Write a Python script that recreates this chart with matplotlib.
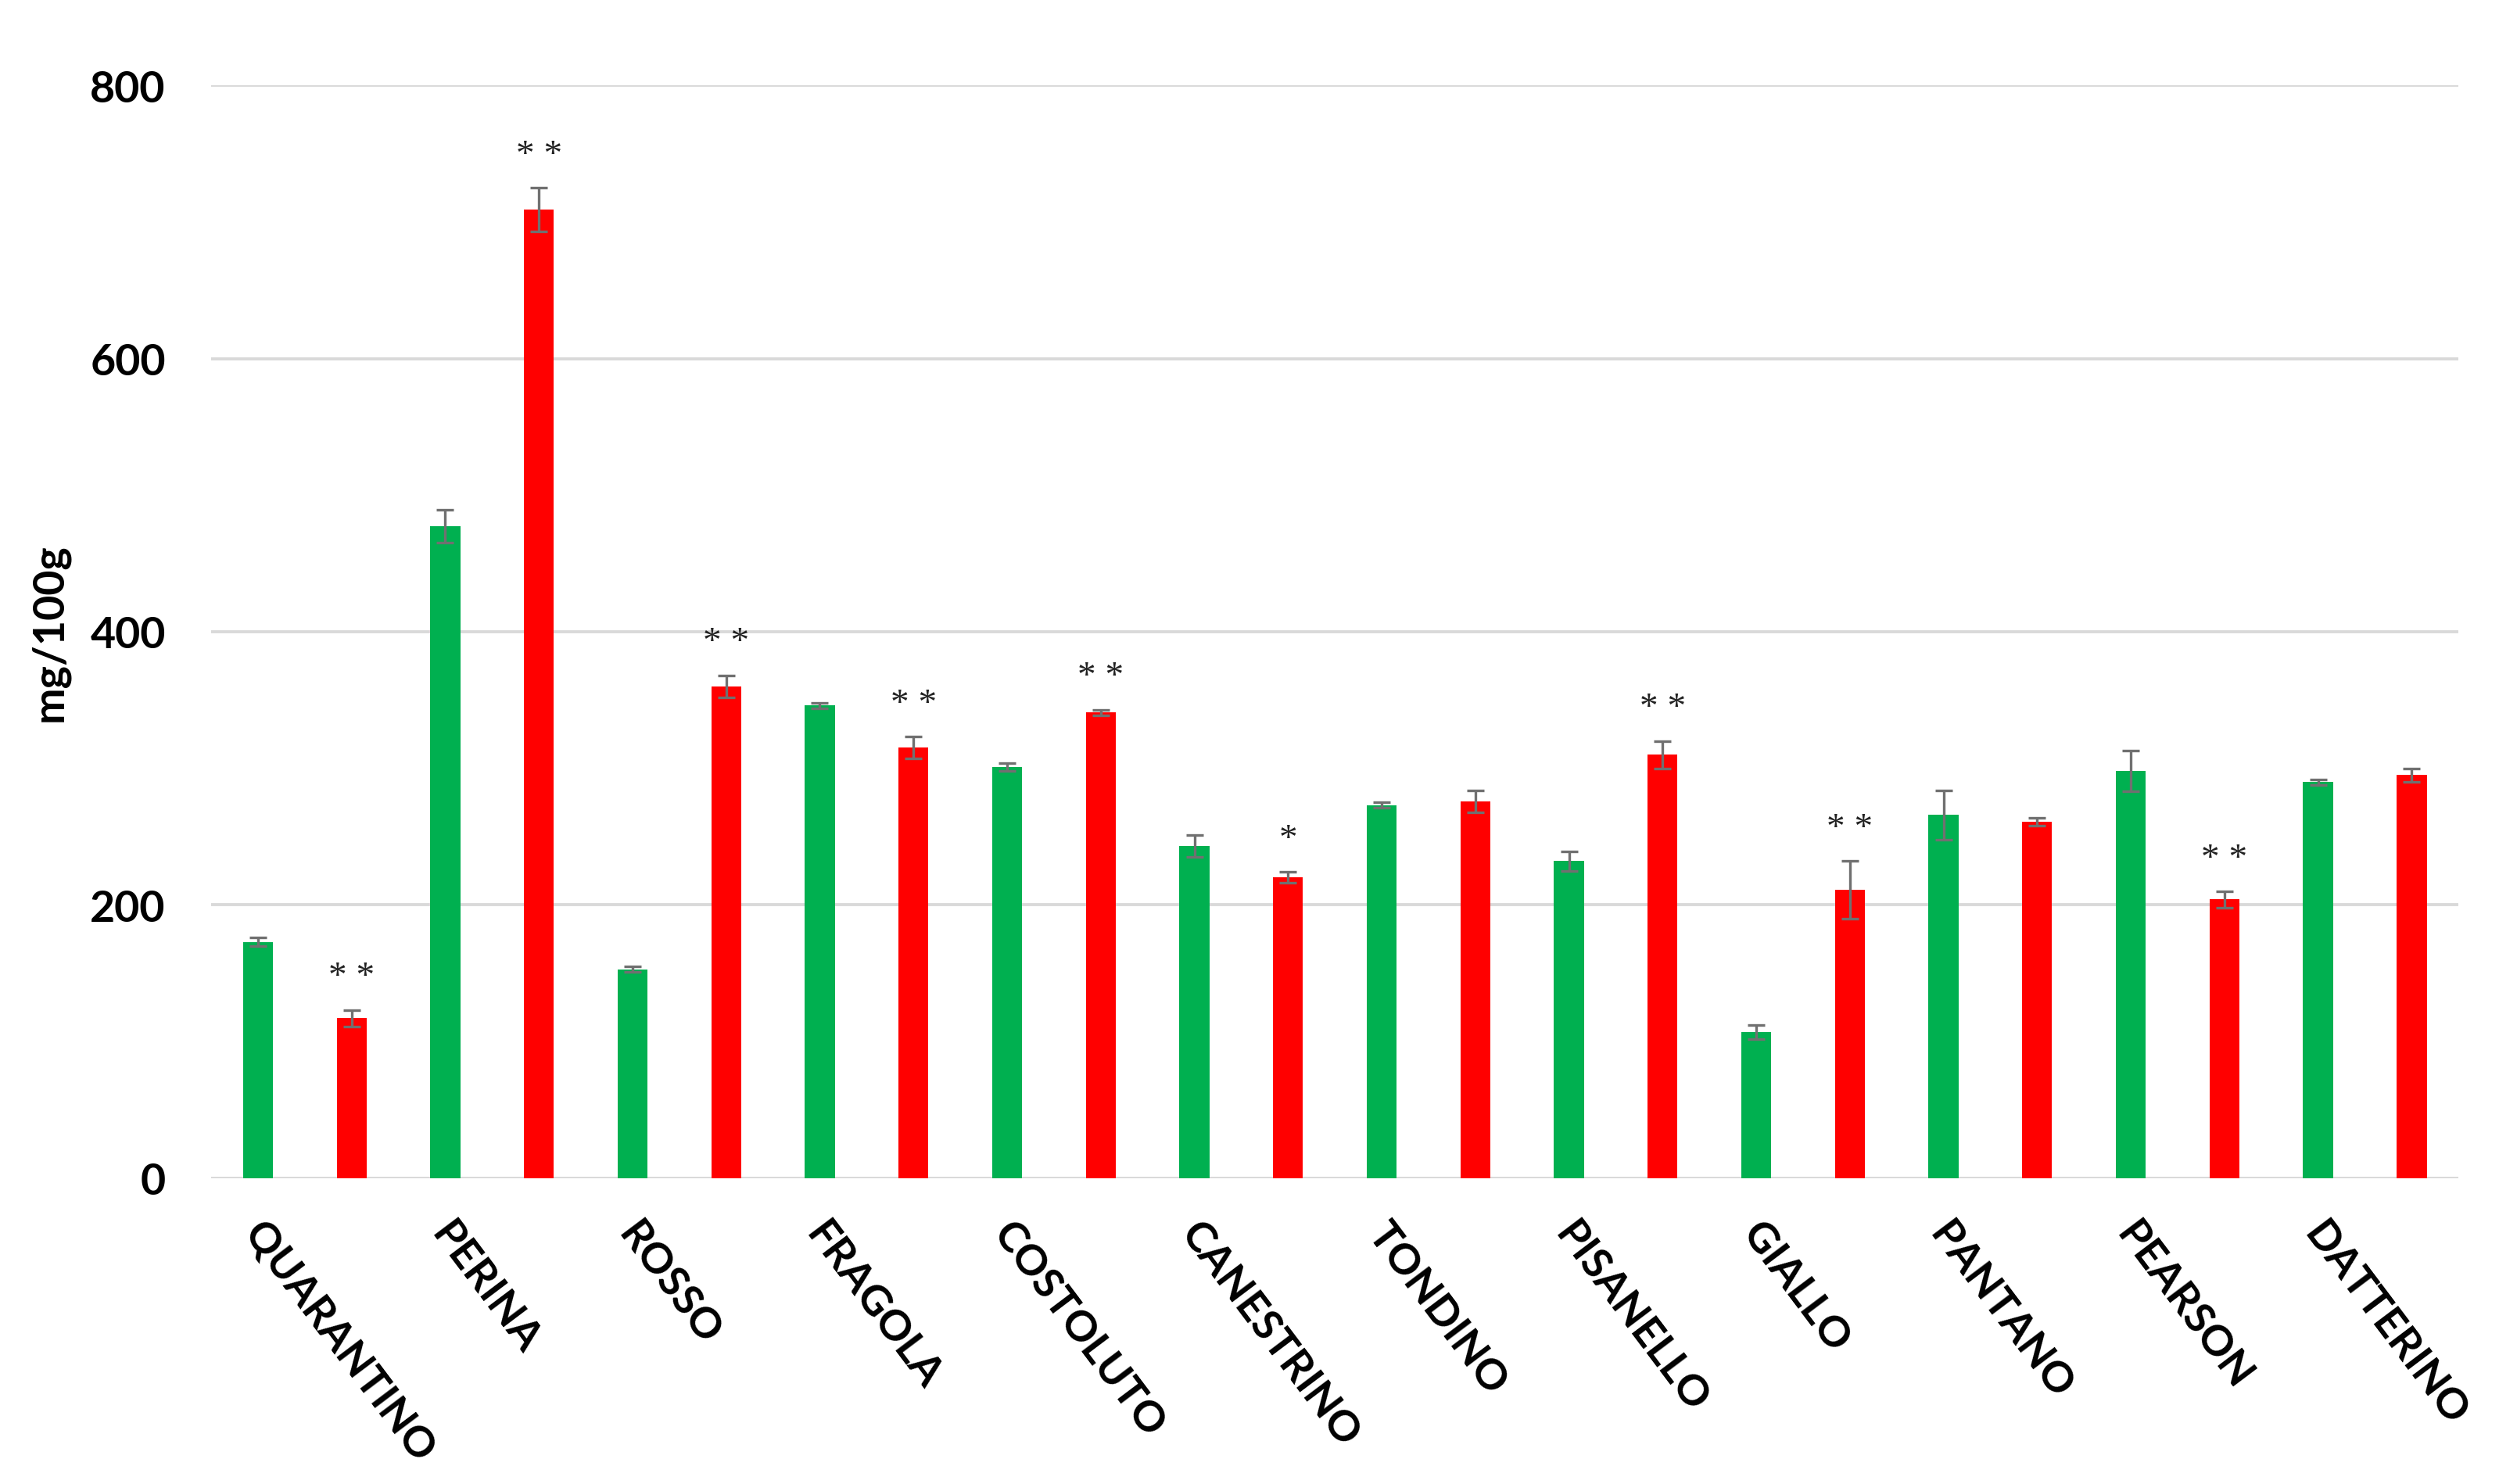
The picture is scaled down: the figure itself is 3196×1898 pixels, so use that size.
import matplotlib
matplotlib.use("Agg")
import matplotlib.pyplot as plt
import numpy as np

categories = ["QUARANTINO", "PERINA", "ROSSO", "FRAGOLA", "COSTOLUTO", "CANESTRINO",
              "TONDINO", "PISANELLO", "GIALLO", "PANTANO", "PEARSON", "DATTERINO"]
green_vals = [173, 477, 153, 346, 301, 243, 273, 232, 107, 266, 298, 290]
green_err = [3, 12, 2, 2, 3, 8, 2, 7, 5, 18, 15, 2]
red_vals = [117, 709, 360, 315, 341, 220, 276, 310, 211, 261, 204, 295]
red_err = [6, 16, 8, 8, 2, 4, 8, 10, 21, 3, 6, 5]
red_marks = ["* *", "* *", "* *", "* *", "* *", "*", "", "* *", "* *", "", "* *", ""]
yticks = [0, 200, 400, 600, 800]
ylabel = "mg/100g"

W, H, DPI = 3196, 1899, 200
fig = plt.figure(figsize=(W / DPI, H / DPI), dpi=DPI)
ax = fig.add_axes([0.0845, 0.206, 0.8993, 0.736])

x = np.arange(len(categories))
off = 0.25
bw = 0.16
ekw = dict(ecolor="#707070", elinewidth=1.2, capsize=4, capthick=1.2)
ax.bar(x - off, green_vals, bw, color="#00B050", yerr=green_err, error_kw=ekw, zorder=3)
ax.bar(x + off, red_vals, bw, color="#FF0000", yerr=red_err, error_kw=ekw, zorder=3)

for xi, v, e, m in zip(x + off, red_vals, red_err, red_marks):
    if m:
        ax.annotate(m, (xi, v + e), xytext=(0, 15), textcoords="offset points",
                    ha="center", va="center", fontsize=17, family="Liberation Serif",
                    color="#222222", annotation_clip=False)

ax.set_xlim(-0.5, len(categories) - 0.5)
ax.set_ylim(0, 800)
ax.set_yticks(yticks)
ax.set_yticklabels([str(t) for t in yticks], fontsize=20, fontweight="bold", family="Lato")
ax.grid(axis="y", color="#d9d9d9", linewidth=1.4, zorder=0)
ax.set_axisbelow(True)
for s in ax.spines.values():
    s.set_visible(False)
ax.tick_params(axis="both", length=0)
ax.tick_params(axis="y", pad=21)

ax.set_xticks(x - off + 0.05)
ax.set_xticklabels(categories, rotation=-53, ha="left", va="top", rotation_mode="anchor",
                   fontsize=19.5, fontweight="bold", family="Lato")
ax.tick_params(axis="x", pad=17)

ax.set_ylabel(ylabel, fontsize=20, fontweight="bold", family="Lato")
ax.yaxis.set_label_coords(63 / (0.8993 * W) - 0.0845 / 0.8993, 0.5)
ax.yaxis.label.set_va("center")

fig.savefig("out.png", dpi=DPI, facecolor="white")
